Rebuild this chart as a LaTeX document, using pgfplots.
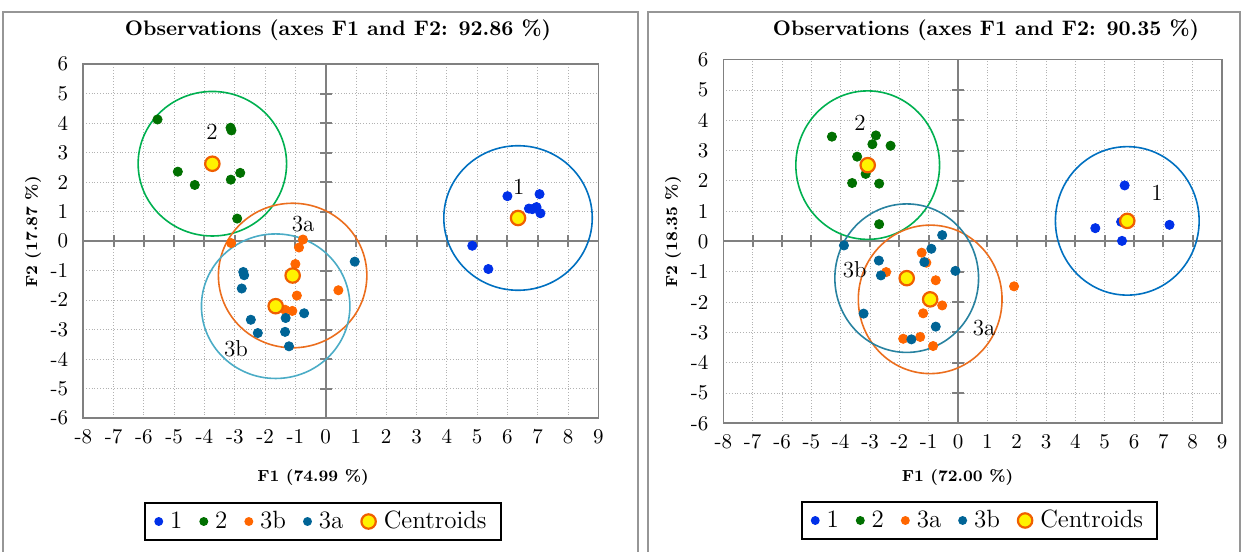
\documentclass[border=0pt]{standalone}
\usepackage{pgfplots}
\pgfplotsset{compat=1.18}
\definecolor{cBlue}{RGB}{0,48,232}
\definecolor{cGreen}{RGB}{0,112,0}
\definecolor{cOrange}{RGB}{255,102,0}
\definecolor{cTeal}{RGB}{0,100,150}
\definecolor{ccBlue}{RGB}{0,112,192}
\definecolor{ccGreen}{RGB}{0,176,80}
\definecolor{ccOrange}{RGB}{235,110,30}
\definecolor{ccCyan}{RGB}{75,172,198}
\definecolor{ccTeal}{RGB}{40,130,160}
\definecolor{cCenBorder}{RGB}{240,95,0}
\definecolor{frameGray}{RGB}{150,150,150}
\definecolor{axGray}{RGB}{128,128,128}
\pgfplotsset{pca/.style={
  scale only axis, anchor=south west,
  xmin=-8, xmax=9, ymin=-6, ymax=6,
  xtick={-8,...,9}, ytick={-6,...,6},
  xticklabels={-8,-7,-6,-5,-4,-3,-2,-1,0,1,2,3,4,5,6,7,8,9},
  yticklabels={-6,-5,-4,-3,-2,-1,0,1,2,3,4,5,6},
  grid=major,
  major grid style={densely dotted, gray!60, line width=0.45pt},
  axis line style={axGray, line width=0.8pt},
  tick style={draw=none},
  ticklabel style={font=\fontsize{10.5}{12}\selectfont},
  xticklabel style={yshift=-2pt},
  yticklabel style={xshift=-4pt},
  legend columns=-1,
  legend style={draw=black, line width=1pt, font=\fontsize{12.5}{15}\selectfont,
    anchor=center, inner xsep=5pt, inner ysep=2pt,
    /tikz/every odd column/.append style={column sep=2pt},
    /tikz/every even column/.append style={column sep=7pt}},
  clip=false,
}}
\tikzset{zl/.style={axGray, line width=1pt},
  lab/.style={font=\fontsize{11.5}{13}\selectfont}}
\pgfplotsset{
  pt/.style={only marks, mark=*, mark size=2.3pt, legend image post style={mark size=1.7pt}},
  cen/.style={only marks, mark=*, mark size=3.6pt, mark options={fill=yellow, draw=cCenBorder, line width=1.1pt}}}
\begin{document}
\begin{tikzpicture}
\useasboundingbox (0pt,0pt) rectangle (622pt,276pt);
\draw[frameGray, line width=0.8pt] (1.5pt,-2pt) -- (1.5pt,270pt) -- (319pt,270pt) -- (319pt,-2pt);
\draw[frameGray, line width=0.8pt] (324pt,-2pt) -- (324pt,270pt) -- (620pt,270pt) -- (620pt,-2pt);

% ---------------- left panel
\begin{axis}[pca, at={(41.65pt,67pt)}, width=257.5pt, height=177pt,
  legend style={at={(0.4654,-0.2924)}},
  legend entries={1,2,3b,3a,Centroids}]
\draw[zl] (axis cs:-8,0) -- (axis cs:9,0);
\draw[zl] (axis cs:0,-6) -- (axis cs:0,6);
\pgfplotsinvokeforeach{-7,...,8}{\draw[zl] (axis cs:#1,0) ++(0pt,-3pt) -- ++(0pt,6pt);}
\pgfplotsinvokeforeach{-5,...,5}{\draw[zl] (axis cs:0,#1) ++(-3pt,0pt) -- ++(6pt,0pt);}
\addplot[pt, cBlue] coordinates {(6.0,1.52) (7.06,1.59) (6.71,1.10) (6.82,1.08) (6.96,1.15) (7.09,0.94) (4.84,-0.16) (5.37,-0.95)};
\addplot[pt, cGreen] coordinates {(-5.55,4.12) (-3.14,3.84) (-3.11,3.75) (-4.88,2.35) (-4.32,1.90) (-3.13,2.08) (-2.82,2.31) (-2.92,0.76)};
\addplot[pt, cOrange] coordinates {(-3.12,-0.07) (-0.75,0.05) (-0.88,-0.22) (-1.00,-0.78) (-0.95,-1.85) (0.42,-1.67) (-1.34,-2.33) (-1.10,-2.37)};
\addplot[pt, cTeal] coordinates {(0.96,-0.70) (-2.72,-1.05) (-2.69,-1.16) (-2.77,-1.61) (-2.47,-2.67) (-2.24,-3.12) (-1.32,-2.61) (-0.71,-2.45) (-1.34,-3.08) (-1.21,-3.57)};
\addplot[cen] coordinates {(6.35,0.78) (-3.74,2.62) (-1.09,-1.17) (-1.65,-2.21)};
\draw[ccBlue, line width=0.8pt] (axis cs:6.35,0.78) ellipse [x radius=2.45, y radius=2.45];
\draw[ccGreen, line width=0.8pt] (axis cs:-3.74,2.62) ellipse [x radius=2.45, y radius=2.45];
\draw[ccOrange, line width=0.8pt] (axis cs:-1.09,-1.17) ellipse [x radius=2.45, y radius=2.45];
\draw[ccCyan, line width=0.8pt] (axis cs:-1.65,-2.21) ellipse [x radius=2.45, y radius=2.45];
\node[lab] at (axis cs:6.37,1.83) {1};
\node[lab] at (axis cs:-3.75,3.70) {2};
\node[lab] at (axis cs:-0.74,0.57) {3a};
\node[lab] at (axis cs:-2.96,-3.65) {3b};
\end{axis}

% ---------------- right panel
\begin{axis}[pca, at={(361.7pt,64.35pt)}, width=249.3pt, height=181.8pt,
  legend style={at={(0.5136,-0.2673)}},
  legend entries={1,2,3a,3b,Centroids}]
\draw[zl] (axis cs:-8,0) -- (axis cs:9,0);
\draw[zl] (axis cs:0,-6) -- (axis cs:0,6);
\pgfplotsinvokeforeach{-7,...,8}{\draw[zl] (axis cs:#1,0) ++(0pt,-3pt) -- ++(0pt,6pt);}
\pgfplotsinvokeforeach{-5,...,5}{\draw[zl] (axis cs:0,#1) ++(-3pt,0pt) -- ++(6pt,0pt);}
\addplot[pt, cBlue] coordinates {(5.68,1.85) (4.68,0.44) (5.56,0.65) (5.59,0.02) (7.21,0.55)};
\addplot[pt, cGreen] coordinates {(-4.30,3.46) (-2.80,3.50) (-2.92,3.21) (-2.30,3.16) (-3.44,2.80) (-3.15,2.23) (-3.61,1.93) (-2.69,1.91) (-2.69,0.57)};
\addplot[pt, cOrange] coordinates {(-1.24,-0.37) (-1.08,-0.70) (-2.45,-1.01) (-0.76,-1.28) (1.91,-1.48) (-0.54,-2.11) (-1.19,-2.37) (-1.87,-3.21) (-1.29,-3.15) (-0.85,-3.45)};
\addplot[pt, cTeal] coordinates {(-3.89,-0.13) (-0.54,0.21) (-0.91,-0.24) (-2.70,-0.63) (-1.15,-0.68) (-2.63,-1.12) (-0.09,-0.97) (-3.22,-2.38) (-0.76,-2.81) (-1.59,-3.23)};
\addplot[cen] coordinates {(5.77,0.68) (-3.08,2.52) (-0.95,-1.91) (-1.75,-1.21)};
\draw[ccBlue, line width=0.8pt] (axis cs:5.77,0.68) ellipse [x radius=2.45, y radius=2.45];
\draw[ccGreen, line width=0.8pt] (axis cs:-3.08,2.52) ellipse [x radius=2.45, y radius=2.45];
\draw[ccOrange, line width=0.8pt] (axis cs:-0.95,-1.91) ellipse [x radius=2.45, y radius=2.45];
\draw[ccTeal, line width=0.8pt] (axis cs:-1.75,-1.21) ellipse [x radius=2.45, y radius=2.45];
\node[lab] at (axis cs:6.78,1.59) {1};
\node[lab] at (axis cs:-3.34,3.90) {2};
\node[lab] at (axis cs:0.89,-2.87) {3a};
\node[lab] at (axis cs:-3.52,-0.94) {3b};
\end{axis}

% ---------------- titles and axis labels
\node[font=\fontsize{10.5}{12}\selectfont\bfseries] at (169pt,261pt) {Observations (axes F1 and F2: 92.86 \%)};
\node[font=\fontsize{10.5}{12}\selectfont\bfseries] at (493pt,261pt) {Observations (axes F1 and F2: 90.35 \%)};
\node[font=\fontsize{8}{10}\selectfont\bfseries, rotate=90] at (16.5pt,160pt) {F2 (17.87 \%)};
\node[font=\fontsize{8}{10}\selectfont\bfseries, rotate=90] at (336.5pt,160pt) {F2 (18.35 \%)};
\node[font=\fontsize{8}{10}\selectfont\bfseries] at (156.5pt,37pt) {F1 (74.99 \%)};
\node[font=\fontsize{8}{10}\selectfont\bfseries] at (478.75pt,37pt) {F1 (72.00 \%)};
\end{tikzpicture}
\end{document}
